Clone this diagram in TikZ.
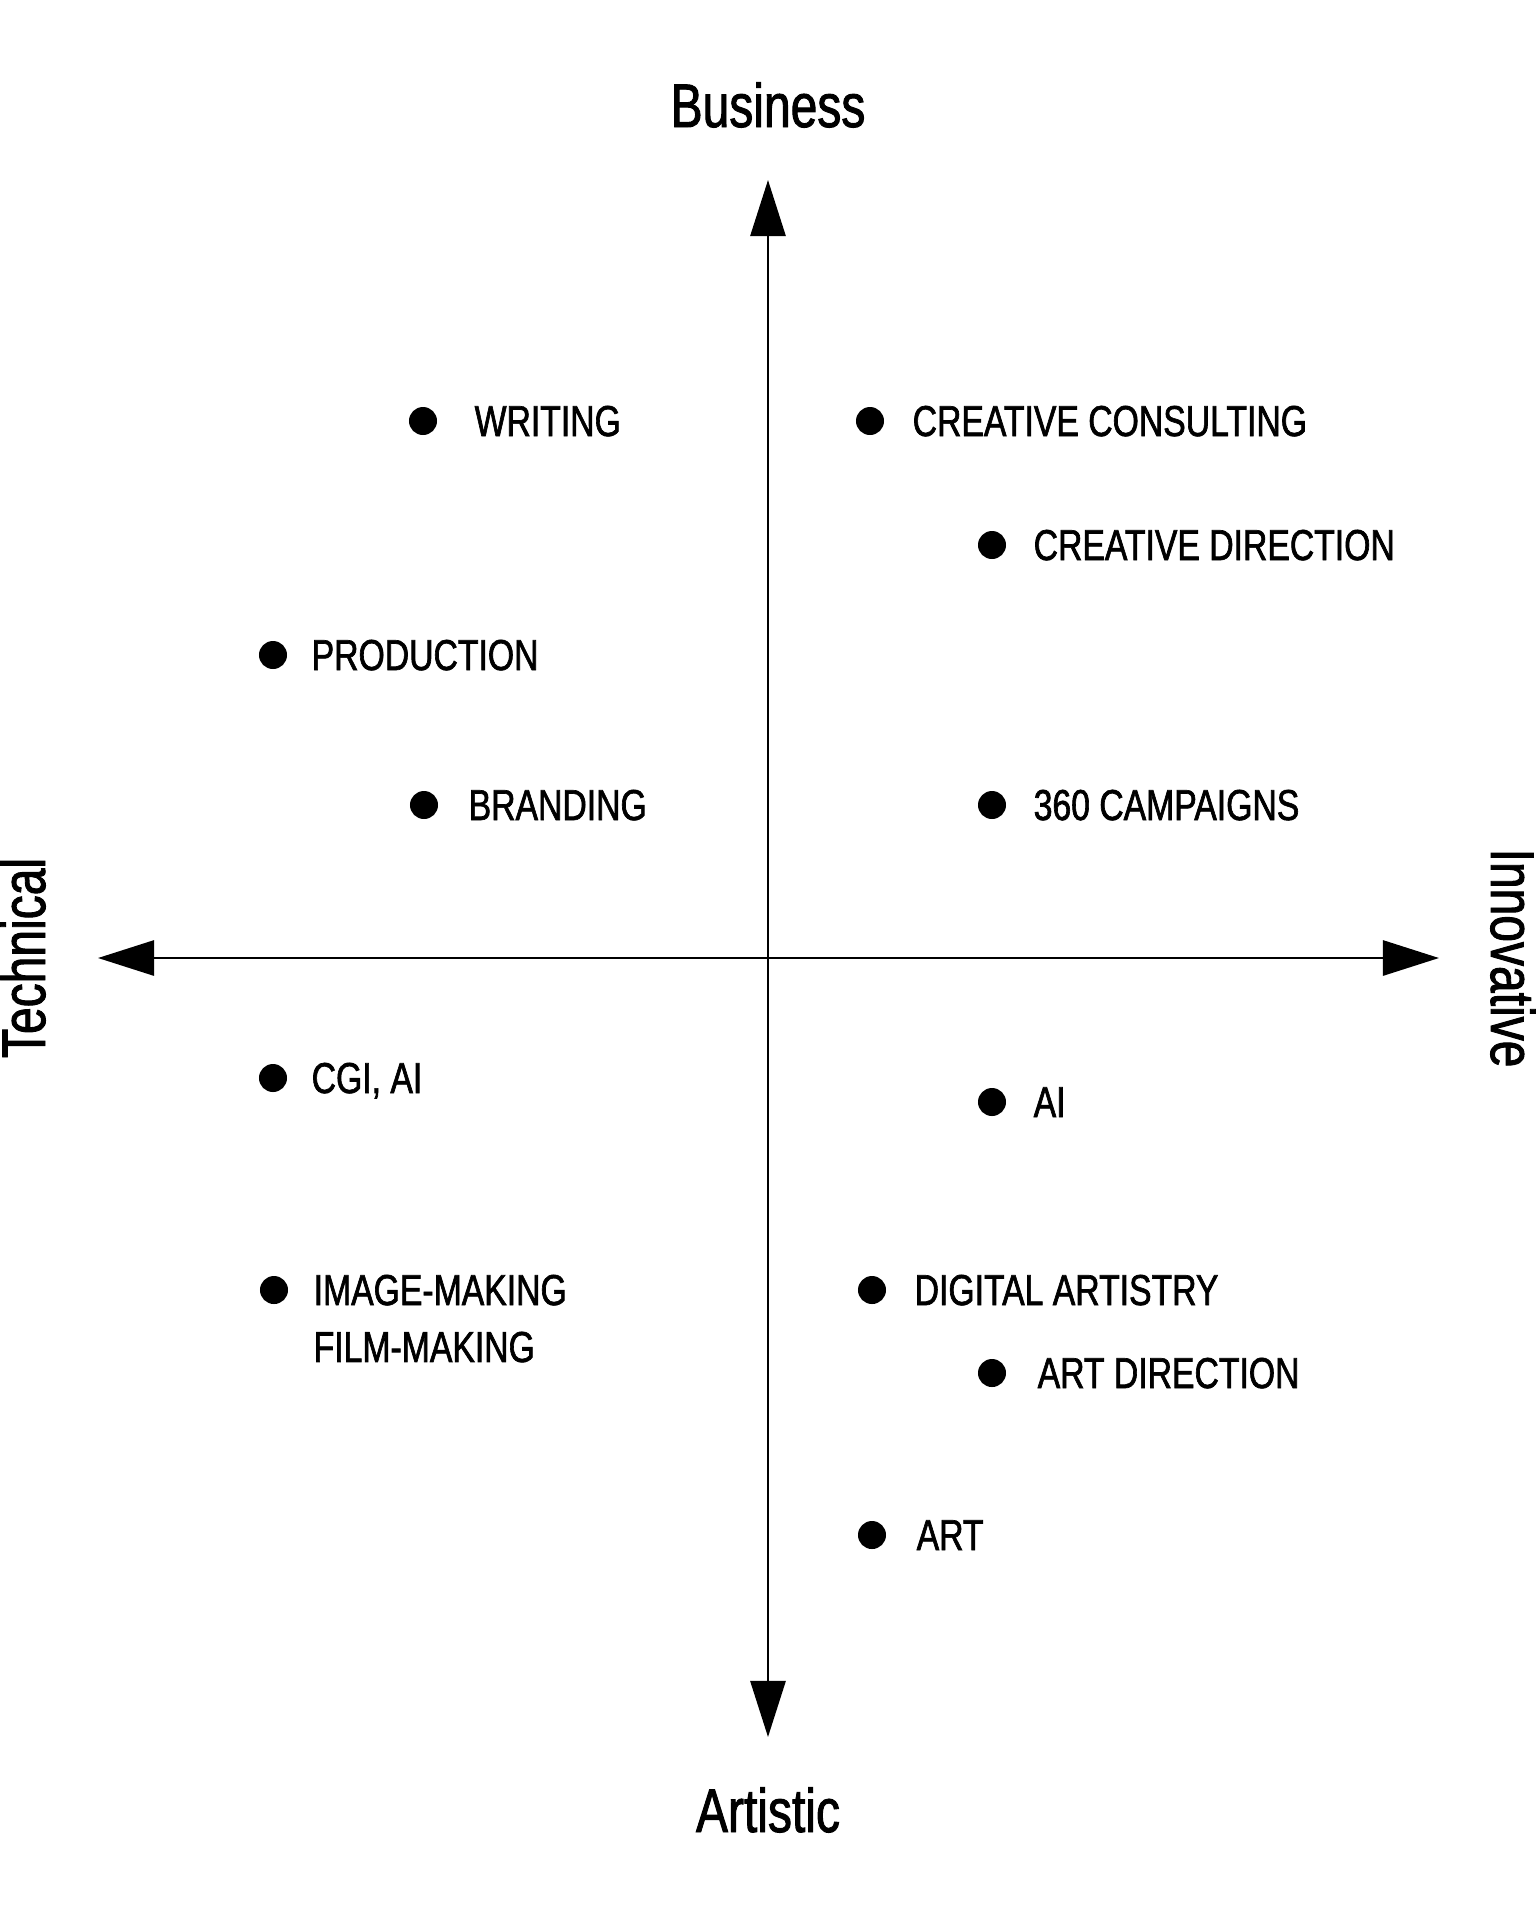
\documentclass[tikz,border=0pt]{standalone}
\usepackage{fontspec}
\setmainfont{Liberation Sans}[FakeStretch=0.78, FakeBold=1.5]
\usetikzlibrary{arrows.meta}

\tikzset{
    axis/.style={line width=0.8pt, {Triangle[length=0.56cm,width=0.35cm]}-{Triangle[length=0.56cm,width=0.35cm]}},
    dot/.style={circle, fill=black, inner sep=0pt, minimum size=0.28cm},
    item/.style={anchor=base west, inner sep=0pt, font=\fontsize{12.3pt}{16.2pt}\selectfont},
    pole/.style={anchor=base, inner sep=0pt, font=\fontsize{17.5pt}{20pt}\selectfont}
}

\begin{document}
\begin{tikzpicture}[x=0.01cm, y=-0.01cm]
            \useasboundingbox (0,0) rectangle (1536,1920);

            \coordinate (O) at (768,958);
            \coordinate (T) at (768,180);
            \coordinate (B) at (768,1737);
            \coordinate (L) at (98,958);
            \coordinate (R) at (1439,958);

            \draw[axis] (B)--(T);
            \draw[axis] (L)--(R);

            \node[pole] (business) at (768,127) {Business};
            \node[pole] (artistic) at (768,1832) {Artistic};
            \node[pole, rotate=90] (technical) at (45,958) {Technical};
            \node[pole, rotate=-90] (innovative) at (1491,958) {Innovative};

            % upper left
            \node[dot] (writing) at (423,421) {};
            \node[item] (writingL) at (474,436) {WRITING};
            \node[dot] (production) at (273,655) {};
            \node[item] (productionL) at (311,670) {PRODUCTION};
            \node[dot] (branding) at (424,805) {};
            \node[item] (brandingL) at (468,820) {BRANDING};

            % upper right
            \node[dot] (consulting) at (870,421) {};
            \node[item] (consultingL) at (912,436) {CREATIVE CONSULTING};
            \node[dot] (direction) at (992,545) {};
            \node[item] (directionL) at (1033,560) {CREATIVE DIRECTION};
            \node[dot] (campaigns) at (992,805) {};
            \node[item] (campaignsL) at (1033,820) {360 CAMPAIGNS};

            % lower left
            \node[dot] (cgi) at (273,1078) {};
            \node[item] (cgiL) at (311,1093) {CGI, AI};
            \node[dot] (imaging) at (274,1290) {};
            \node[item] (imagingL) at (313,1305) {\vtop{\hbox{IMAGE-MAKING}\hbox{FILM-MAKING}}};

            % lower right
            \node[dot] (ai) at (992,1102) {};
            \node[item] (aiL) at (1033,1117) {AI};
            \node[dot] (digital) at (872,1290) {};
            \node[item] (digitalL) at (914,1305) {DIGITAL ARTISTRY};
            \node[dot] (artdir) at (992,1373) {};
            \node[item] (artdirL) at (1037,1388) {ART DIRECTION};
            \node[dot] (art) at (872,1535) {};
            \node[item] (artL) at (916,1550) {ART};
        \end{tikzpicture}
\end{document}
